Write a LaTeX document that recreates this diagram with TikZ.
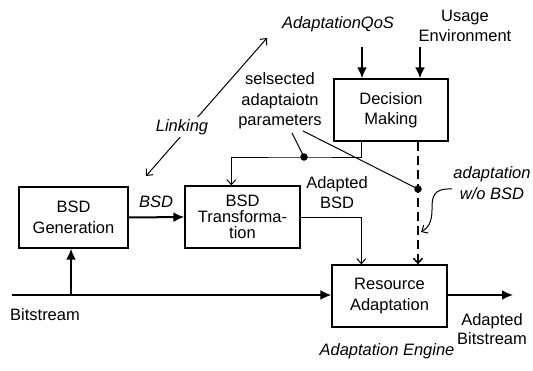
\documentclass[tikz,border=0pt]{standalone}
\usepackage{fontspec}
\setmainfont{Liberation Sans}
\usetikzlibrary{arrows.meta,calc}
\begin{document}
\begin{tikzpicture}[x=1pt,y=-1pt,
  font=\fontsize{16.5}{20.5}\selectfont,
  box/.style={draw,line width=1.3pt,inner sep=0pt,align=center},
  thickarrow/.style={line width=2pt,-{Latex[length=11pt,width=10pt]}},
  thinarrow/.style={line width=1pt,-{Straight Barb[length=5pt,width=9pt]}},
  lbl/.style={inner sep=0pt,align=center},
  ilbl/.style={inner sep=0pt,align=center,font=\fontsize{16.5}{20.5}\selectfont\itshape},
  dot/.style={circle,fill,inner sep=0pt,minimum size=7.5pt}]
\useasboundingbox (0,0) rectangle (533,370);
% boxes
\node[box,minimum width=109pt,minimum height=61pt] (gen) at (73.5,217.5) {BSD\\Generation};
\node[box,minimum width=115pt,minimum height=62pt,font=\fontsize{16.5}{16}\selectfont] (trans) at (242.5,217) {BSD\\Transforma-\\tion};
\node[box,minimum width=114pt,minimum height=62pt] (dm) at (391,110) {Decision\\Making};
\node[box,minimum width=115pt,minimum height=62pt] (ra) at (389.5,296) {Resource\\Adaptation};
% labels
\node[ilbl] (qos) at (338,24) {AdaptationQoS};
\node[lbl] (ue) at (465,26) {Usage\\Environment};
\node[lbl] (par) at (280,101) {selsected\\adaptaiotn\\parameters};
\node[ilbl] (bsdl) at (156,202) {BSD};
\node[lbl,font=\fontsize{16.5}{20}\selectfont] (abl) at (337,193) {Adapted\\BSD};
\node[ilbl] (wo) at (492,183) {adaptation\\w/o BSD};
\node[lbl] (bsin) at (45,315) {Bitstream};
\node[lbl,font=\fontsize{16.5}{18.5}\selectfont] (bsout) at (492,329) {Adapted\\Bitstream};
\node[ilbl] (eng) at (387,351) {Adaptation Engine};
% coordinates
\coordinate (bsL) at (12,295);
\coordinate (bsJ) at (71,295);
\coordinate (out) at (513,295);
\coordinate (qIn) at (362,47);
\coordinate (ueIn) at (420,47);
\coordinate (j1) at (304,157);
\coordinate (j2) at (418,189);
\coordinate (parA) at (292,133);
\coordinate (parB) at (303,131);
\coordinate (lA) at (146,176);
\coordinate (lB) at (267,38);
\coordinate (cS) at (452,189);
\coordinate (cE) at (421,232);
% connectors
\draw[thickarrow] (bsL) -- (bsL -| ra.west);
\draw[thickarrow] (bsJ) -- (bsJ |- gen.south);
\draw[thickarrow] (gen.east) -- (trans.west);
\draw[thickarrow] (ra.east |- bsL) -- (out);
\draw[thickarrow] (qIn) -- (qIn |- dm.north);
\draw[thickarrow] (ueIn) -- (ueIn |- dm.north);
\draw[thinarrow] (trans.east) -| ($(ra.north west)+(30,0)$);
\draw[thinarrow] ($(dm.south west)+(28,0)$) |- (j1) -| ($(trans.north west)+(47,0)$);
\draw[line width=1pt] (parA) -- (j1);
\draw[line width=1pt] (parB) -- (j2);
\draw[thinarrow,line width=1.5pt,dash pattern=on 9pt off 5pt] (j2 |- dm.south) -- (j2 |- ra.north);
\node[dot] at (j1) {};
\node[dot] at (j2) {};
\draw[line width=1pt,{Straight Barb[length=5pt,width=9pt]}-{Straight Barb[length=5pt,width=9pt]}] (lA) -- (lB);
\node[ilbl,fill=white,inner sep=2pt] (lnk) at (182,127) {Linking};
\draw[thinarrow] (cS) .. controls (432,188) and (432,198) .. (432,210) .. controls (432,222) and (428,228) .. (cE);
\end{tikzpicture}
\end{document}
